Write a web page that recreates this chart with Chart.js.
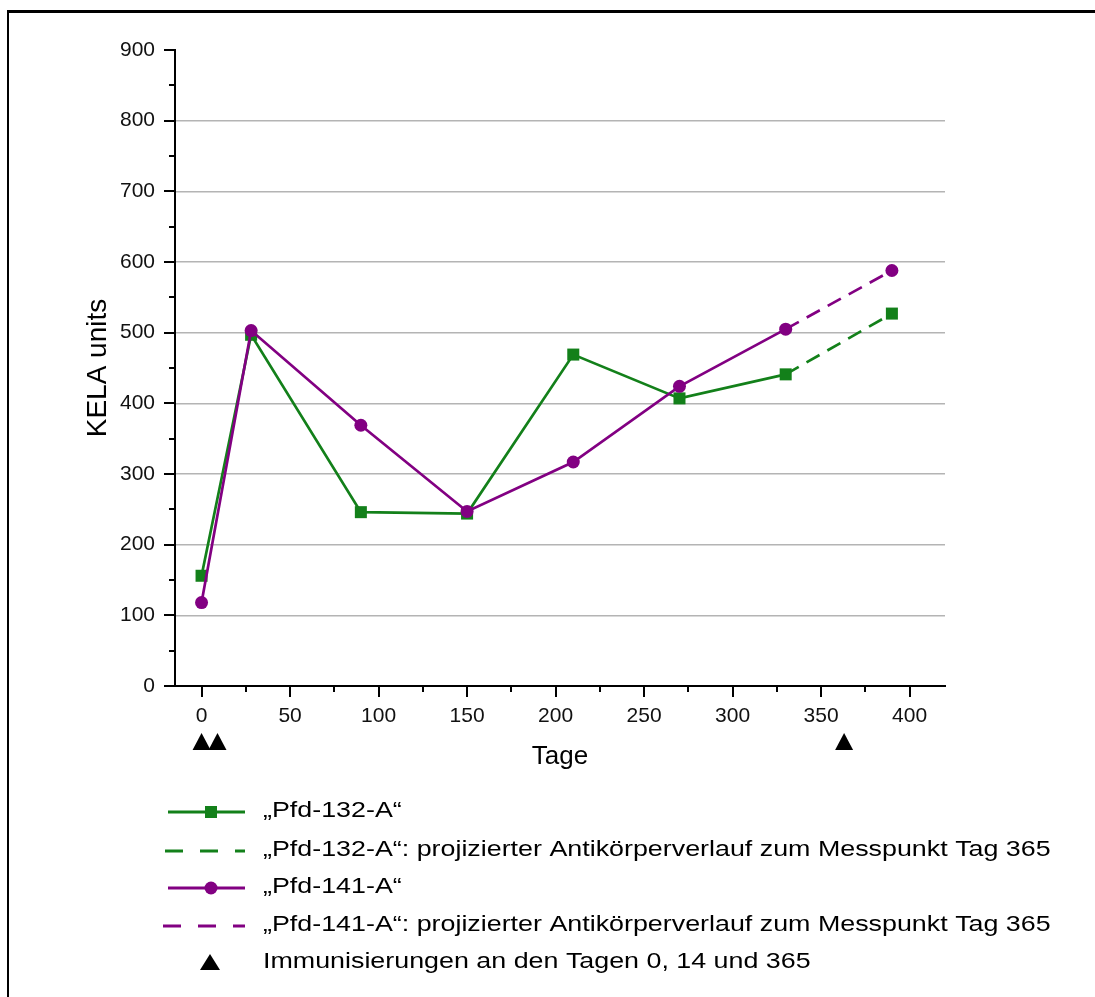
<!DOCTYPE html>
<html>
<head>
<meta charset="utf-8">
<script src="https://cdn.jsdelivr.net/npm/chart.js@4.4.1/dist/chart.umd.min.js"></script>
<style>
  html, body { margin: 0; padding: 0; background: #fff; overflow: hidden; }
  #wrap { position: relative; width: 1095px; height: 997px; }
  #frame { position: absolute; left: 7px; top: 10px; width: 1200px; height: 1200px;
           border-left: 2px solid #000; border-top: 3px solid #000; }
  #chart { position: absolute; left: 0; top: 0; }
</style>
</head>
<body>
<div id="wrap">
  <div id="frame"></div>
  <canvas id="chart" width="1095" height="997"></canvas>
</div>
<script>
// Data (day, KELA units)
const days = [0, 28, 90, 150, 210, 270, 330];
const kela132 = [156, 497, 246, 244, 469, 407, 441];
const kela141 = [118, 503, 369, 247, 317, 424, 505];
const projDays = [330, 390];
const proj132 = [441, 527];
const proj141 = [505, 588];
const immunDays = [0, 9, 363];

const xTicks = [0, 50, 100, 150, 200, 250, 300, 350, 400];
const yTicks = [0, 100, 200, 300, 400, 500, 600, 700, 800, 900];

const legendLabels = [
    '\u201EPfd-132-A\u201C',
    '\u201EPfd-132-A\u201C: projizierter Antik\u00F6rperverlauf zum Messpunkt Tag 365',
    '\u201EPfd-141-A\u201C',
    '\u201EPfd-141-A\u201C: projizierter Antik\u00F6rperverlauf zum Messpunkt Tag 365',
    'Immunisierungen an den Tagen 0, 14 und 365'
];

const GREEN = '#13801a';
const PURPLE = '#820082';
const FONT = "'Liberation Sans', Arial, sans-serif";

const toPts = (xs, ys) => xs.map((x, i) => ({ x: x, y: ys[i] }));

// minor ticks, immunisation markers and the legend block
const extras = {
    id: 'extras',
    afterDraw(chart) {
        const ctx = chart.ctx;
        const xs = chart.scales.x, ys = chart.scales.y;
        const area = chart.chartArea;
        ctx.save();
        ctx.strokeStyle = '#000';
        ctx.lineWidth = 2;

        // y ticks (major every 100, minor every 50)
        for (let v = 0; v <= 900; v += 50) {
            const py = Math.round(ys.getPixelForValue(v));
            const len = v % 100 === 0 ? 11 : 6;
            ctx.beginPath();
            ctx.moveTo(area.left, py);
            ctx.lineTo(area.left - len, py);
            ctx.stroke();
        }
        // x ticks (major every 50, minor every 25)
        for (let v = 0; v <= 400; v += 25) {
            const px = Math.round(xs.getPixelForValue(v));
            const len = v % 50 === 0 ? 11 : 6;
            ctx.beginPath();
            ctx.moveTo(px, area.bottom);
            ctx.lineTo(px, area.bottom + len);
            ctx.stroke();
        }

        // immunisation triangles under the axis
        ctx.fillStyle = '#000';
        immunDays.forEach(d => {
            const px = xs.getPixelForValue(d);
            const base = area.bottom + 64;
            ctx.beginPath();
            ctx.moveTo(px, base - 17);
            ctx.lineTo(px + 9, base);
            ctx.lineTo(px - 9, base);
            ctx.closePath();
            ctx.fill();
        });

        // legend
        const rows = [812, 851, 888, 926, 963];
        const x0 = 168, x1 = 245, mx = 211;
        ctx.lineWidth = 2.8;

        ctx.strokeStyle = GREEN;
        ctx.beginPath(); ctx.moveTo(x0, rows[0]); ctx.lineTo(x1, rows[0]); ctx.stroke();
        ctx.fillStyle = GREEN;
        ctx.fillRect(mx - 6, rows[0] - 6, 12, 12);

        ctx.setLineDash([18, 17]);
        ctx.beginPath(); ctx.moveTo(165, rows[1]); ctx.lineTo(x1, rows[1]); ctx.stroke();
        ctx.setLineDash([]);

        ctx.strokeStyle = PURPLE;
        ctx.beginPath(); ctx.moveTo(x0, rows[2]); ctx.lineTo(x1, rows[2]); ctx.stroke();
        ctx.fillStyle = PURPLE;
        ctx.beginPath(); ctx.arc(mx, rows[2], 6.5, 0, Math.PI * 2); ctx.fill();

        ctx.setLineDash([18, 17]);
        ctx.beginPath(); ctx.moveTo(163, rows[3]); ctx.lineTo(x1, rows[3]); ctx.stroke();
        ctx.setLineDash([]);

        ctx.fillStyle = '#000';
        ctx.beginPath();
        ctx.moveTo(210, rows[4] - 9);
        ctx.lineTo(220, rows[4] + 7);
        ctx.lineTo(200, rows[4] + 7);
        ctx.closePath();
        ctx.fill();

        // legend text is set wider in the original figure
        ctx.fillStyle = '#000';
        ctx.font = '22px ' + FONT;
        ctx.textBaseline = 'middle';
        ctx.textAlign = 'left';
        legendLabels.forEach((t, i) => {
            ctx.save();
            ctx.translate(263, rows[i] - 1);
            ctx.scale(1.22, 1);
            ctx.fillText(t, 0, 0);
            ctx.restore();
        });
        ctx.restore();
    }
};

new Chart(document.getElementById('chart'), {
    type: 'scatter',
    data: {
        datasets: [
            { label: 'Pfd-132-A', data: toPts(days, kela132), showLine: true, order: 4,
              borderColor: GREEN, backgroundColor: GREEN, borderWidth: 2.7,
              pointStyle: 'rect', pointRadius: 8.5, pointBorderWidth: 0 },
            { label: 'Pfd-132-A projiziert', data: toPts(projDays, proj132), showLine: true, order: 3,
              borderColor: GREEN, backgroundColor: GREEN, borderWidth: 2.7, borderDash: [15, 9],
              pointStyle: 'rect', pointRadius: [0, 8.5], pointBorderWidth: 0 },
            { label: 'Pfd-141-A', data: toPts(days, kela141), showLine: true, order: 2,
              borderColor: PURPLE, backgroundColor: PURPLE, borderWidth: 2.7,
              pointStyle: 'circle', pointRadius: 6.5, pointBorderWidth: 0 },
            { label: 'Pfd-141-A projiziert', data: toPts(projDays, proj141), showLine: true, order: 1,
              borderColor: PURPLE, backgroundColor: PURPLE, borderWidth: 2.7, borderDash: [15, 9],
              pointStyle: 'circle', pointRadius: [0, 6.5], pointBorderWidth: 0 }
        ]
    },
    options: {
        responsive: false,
        animation: false,
        layout: { padding: { left: 81, top: 50, right: 150, bottom: 225 } },
        plugins: { legend: { display: false }, tooltip: { enabled: false } },
        scales: {
            x: {
                type: 'linear', min: -15, max: 420,
                afterBuildTicks: s => { s.ticks = xTicks.map(v => ({ value: v })); },
                afterFit: s => { s.height = 86; },
                grid: { display: false, drawTicks: false },
                border: { display: true, color: '#000', width: 2 },
                ticks: { color: '#111', font: { family: FONT, size: 21 }, padding: 18, maxRotation: 0, autoSkip: false },
                title: { display: true, text: 'Tage', color: '#000', font: { family: FONT, size: 26 }, padding: 0 }
            },
            y: {
                type: 'linear', min: 0, max: 900,
                afterBuildTicks: s => { s.ticks = yTicks.map(v => ({ value: v })); },
                afterFit: s => { s.width = 94; },
                grid: {
                    drawTicks: false,
                    color: c => (c.tick && c.tick.value > 0 && c.tick.value < 900) ? '#b4b4b4' : 'rgba(0,0,0,0)',
                    lineWidth: 1.5
                },
                border: { display: true, color: '#000', width: 2 },
                ticks: { color: '#111', font: { family: FONT, size: 21 }, padding: 20 },
                title: { display: true, text: 'KELA units', color: '#000', font: { family: FONT, size: 28 }, padding: 0 }
            }
        }
    },
    plugins: [extras]
});
</script>
</body>
</html>
